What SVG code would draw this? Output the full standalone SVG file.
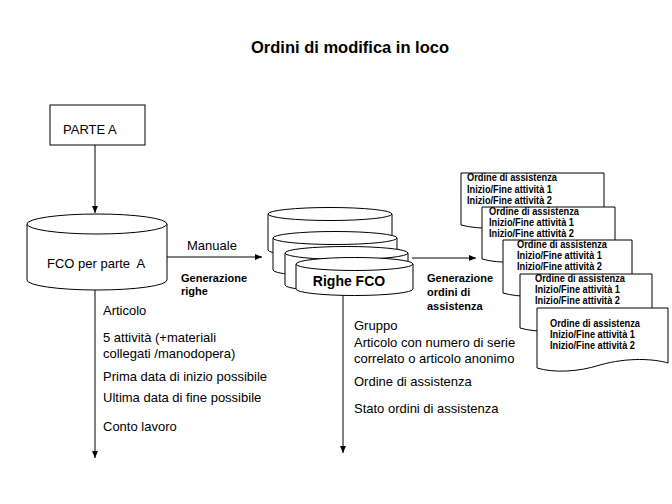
<svg xmlns="http://www.w3.org/2000/svg" width="672" height="504" viewBox="0 0 672 504">
<defs>
<style>
text{font-family:"Liberation Sans",Arial,sans-serif;fill:#000}
.t{font-size:13px}
.b{font-size:11px;font-weight:bold}
.d{font-size:10.5px;font-weight:bold}
.s{fill:#fff;stroke:#000;stroke-width:1}
.l{fill:none;stroke:#000;stroke-width:1}
</style>
<marker id="ah" markerUnits="userSpaceOnUse" markerWidth="7" markerHeight="6" refX="7" refY="3" orient="auto">
<path d="M0,0 L7,3 L0,6 z" fill="#000"/>
</marker>
</defs>
<rect width="672" height="504" fill="#fff"/>
<text x="350" y="53" text-anchor="middle" style="font-size:16.5px;font-weight:bold">Ordini di modifica in loco</text>

<g id="connectors">
<line class="l" x1="95" y1="145" x2="95" y2="213" marker-end="url(#ah)"/>
<line class="l" x1="167" y1="257" x2="262" y2="257" marker-end="url(#ah)"/>
<line class="l" x1="412" y1="258" x2="476" y2="258" marker-end="url(#ah)"/>
<line class="l" x1="95" y1="290" x2="95" y2="458" marker-end="url(#ah)"/>
<line class="l" x1="343" y1="295" x2="343" y2="453" marker-end="url(#ah)"/>
</g>

<g id="parte-a">
<rect class="s" x="50" y="105" width="95" height="40"/>
<text class="t" x="63" y="134">PARTE A</text>
</g>

<g id="fco-parte-a">
<path class="s" d="M27,224 V280 A70,10 0 0 0 167,280 V224"/>
<ellipse class="s" cx="97" cy="224" rx="70" ry="10"/>
<text class="t" x="47" y="268" xml:space="preserve">FCO per parte  A</text>
</g>

<g id="labels-left">
<text class="t" x="187" y="250">Manuale</text>
<text class="b" x="181" y="282">Generazione</text>
<text class="b" x="181" y="295">righe</text>
<text class="t" x="103" y="315">Articolo</text>
<text class="t" x="103" y="342">5 attività (+materiali</text>
<text class="t" x="103" y="358">collegati /manodopera)</text>
<text class="t" x="103" y="381">Prima data di inizio possibile</text>
<text class="t" x="103" y="402">Ultima data di fine possibile</text>
<text class="t" x="103" y="431">Conto lavoro</text>
</g>

<g id="righe-fco">
<path class="s" d="M268,214 V250 A62,6.5 0 0 0 392,250 V214"/>
<ellipse class="s" cx="330" cy="214" rx="62" ry="6.5"/>
<path class="s" d="M273,238 V270 A62,6.5 0 0 0 397,270 V238"/>
<ellipse class="s" cx="335" cy="238" rx="62" ry="6.5"/>
<path class="s" d="M285,253 V285 A61.5,6.5 0 0 0 408,285 V253"/>
<ellipse class="s" cx="346.5" cy="253" rx="61.5" ry="6.5"/>
<path class="s" d="M296,264 V289 A58.5,6.5 0 0 0 413,289 V264"/>
<ellipse class="s" cx="354.5" cy="264" rx="58.5" ry="6.5"/>
<text x="349" y="286" text-anchor="middle" style="font-size:14px;font-weight:bold">Righe FCO</text>
</g>

<g id="labels-right">
<text class="b" x="427" y="282">Generazione</text>
<text class="b" x="427" y="296">ordini di</text>
<text class="b" x="427" y="310">assistenza</text>
<text class="t" x="354" y="330">Gruppo</text>
<text class="t" x="354" y="347">Articolo con numero di serie</text>
<text class="t" x="354" y="363">correlato o articolo anonimo</text>
<text class="t" x="354" y="386">Ordine di assistenza</text>
<text class="t" x="354" y="413">Stato ordini di assistenza</text>
</g>

<g id="doc1">
<path class="s" d="M461,173 H604 V220 C590,216 560,214 530,222 C505,229 480,230 461,225 Z"/>
<text class="d" x="467" y="181" textLength="90" lengthAdjust="spacingAndGlyphs">Ordine di assistenza</text>
<text class="d" x="467" y="193" textLength="85" lengthAdjust="spacingAndGlyphs">Inizio/Fine attività 1</text>
<text class="d" x="467" y="204" textLength="85" lengthAdjust="spacingAndGlyphs">Inizio/Fine attività 2</text>
</g>
<g id="doc2">
<path class="s" d="M482,207 H615 V254 C602,250 575,248 547,256 C524,263 500,264 482,259 Z"/>
<text class="d" x="489" y="215" textLength="90" lengthAdjust="spacingAndGlyphs">Ordine di assistenza</text>
<text class="d" x="489" y="226" textLength="85" lengthAdjust="spacingAndGlyphs">Inizio/Fine attività 1</text>
<text class="d" x="489" y="237" textLength="85" lengthAdjust="spacingAndGlyphs">Inizio/Fine attività 2</text>
</g>
<g id="doc3">
<path class="s" d="M503,240 H632 V288 C619,284 593,282 566,290 C544,297 520,298 503,293 Z"/>
<text class="d" x="517" y="248" textLength="90" lengthAdjust="spacingAndGlyphs">Ordine di assistenza</text>
<text class="d" x="517" y="259" textLength="85" lengthAdjust="spacingAndGlyphs">Inizio/Fine attività 1</text>
<text class="d" x="517" y="270" textLength="85" lengthAdjust="spacingAndGlyphs">Inizio/Fine attività 2</text>
</g>
<g id="doc4">
<path class="s" d="M520,274 H652 V323 C639,319 612,317 584,325 C562,332 537,333 520,328 Z"/>
<text class="d" x="535" y="282" textLength="90" lengthAdjust="spacingAndGlyphs">Ordine di assistenza</text>
<text class="d" x="535" y="293" textLength="85" lengthAdjust="spacingAndGlyphs">Inizio/Fine attività 1</text>
<text class="d" x="535" y="304" textLength="85" lengthAdjust="spacingAndGlyphs">Inizio/Fine attività 2</text>
</g>
<g id="doc5">
<path class="s" d="M537,308 H668 V363 C655,359 628,357 600,365 C578,372 554,373 537,368 Z"/>
<text class="d" x="550" y="327" textLength="90" lengthAdjust="spacingAndGlyphs">Ordine di assistenza</text>
<text class="d" x="550" y="338" textLength="85" lengthAdjust="spacingAndGlyphs">Inizio/Fine attività 1</text>
<text class="d" x="550" y="349" textLength="85" lengthAdjust="spacingAndGlyphs">Inizio/Fine attività 2</text>
</g>
</svg>
